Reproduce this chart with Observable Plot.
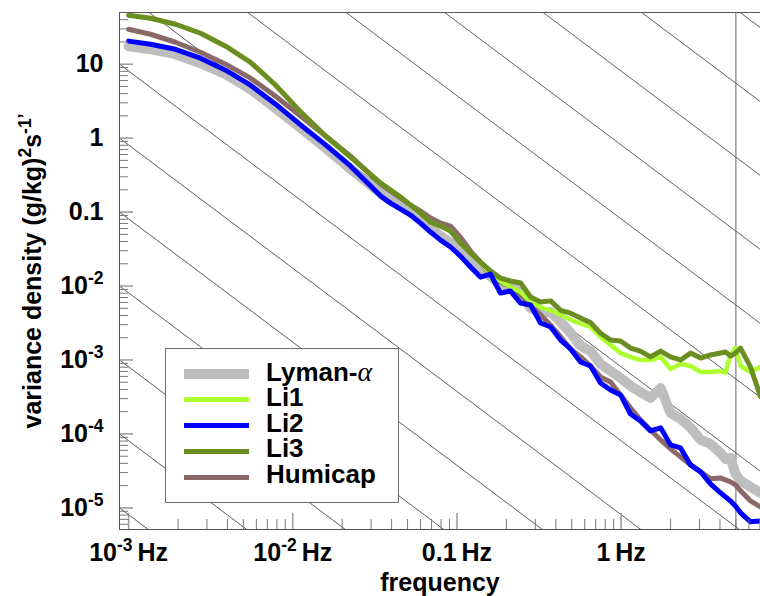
<!DOCTYPE html>
<html>
<head>
<meta charset="utf-8">
<script src="https://cdn.jsdelivr.net/npm/d3@7"></script>
<script src="https://cdn.jsdelivr.net/npm/@observablehq/plot@0.6"></script>
<style>
html,body{margin:0;padding:0;background:#fff;}
#wrap{position:relative;width:760px;height:596px;overflow:hidden;background:#fff;}
#wrap svg{display:block;}
#legend{position:absolute;left:165px;top:348px;width:234px;height:155px;box-sizing:border-box;border:1px solid #6e6e6e;background:#fff;padding-top:12px;}
.row{display:flex;align-items:center;height:25.8px;}
.sw{margin-left:18px;width:65px;flex:none;}
.lab{margin-left:17px;font-family:"Liberation Sans",Arial,sans-serif;font-weight:bold;font-size:26px;line-height:25.8px;color:#000;position:relative;top:-2px;white-space:nowrap;}
.lab i{font-family:"Liberation Serif","DejaVu Serif",serif;font-weight:normal;font-style:italic;font-size:28px;}
</style>
</head>
<body>
<div id="wrap"><div id="legend"></div></div>
<script>
// frequency (Hz)
const freq = [0.001, 0.00136, 0.00193, 0.00274, 0.0039, 0.00553, 0.00786, 0.0112, 0.0159, 0.0225,
  0.0343, 0.0394, 0.0453, 0.0522, 0.06, 0.0691, 0.0795, 0.0914, 0.105, 0.121,
  0.139, 0.16, 0.184, 0.212, 0.244, 0.281, 0.323, 0.372, 0.428, 0.492,
  0.566, 0.651, 0.749, 0.862, 0.992, 1.14, 1.31, 1.51, 1.74, 2.0,
  2.3, 2.65, 3.05, 3.5, 4.03, 4.32, 4.64, 4.97, 5.34, 6.14, 7.06];

// variance density ((g/kg)^2 s^-1) per instrument
const lymanAlpha = [17.5, 15.9, 13.65, 10.3, 7.32, 4.59, 2.54, 1.365, 0.733, 0.381,
  0.1806, 0.1453, 0.1205, 0.1, 0.078, 0.0608, 0.0474, 0.0381, 0.0307, 0.0225,
  0.0175, 0.01365, 0.0103, 0.0103, 0.00804, 0.00504, 0.00432, 0.00445, 0.00326, 0.00232,
  0.00155, 0.00132, 0.000883, 0.00071, 0.000571, 0.000445, 0.000369, 0.000307, 0.000418, 0.000192,
  0.00016, 0.000121, 0.000083, 0.0000732, 0.0000554, 0.0000459, 0.0000474, 0.0000288, 0.0000232, 0.0000192, 0.000016];

const li1 = [45.9, 41.8, 34.7, 26.2, 17.5, 10.6, 5.2, 2.25, 1.06, 0.554,
  0.247, 0.198, 0.16, 0.124, 0.097, 0.0733, 0.0647, 0.0554, 0.0381, 0.0279,
  0.0211, 0.0145, 0.0117, 0.0097, 0.0083, 0.0061, 0.0052, 0.0047, 0.0041, 0.0035,
  0.0031, 0.0028, 0.00205, 0.0016, 0.00124, 0.0011, 0.001, 0.001, 0.0011, 0.000755,
  0.000883, 0.00083, 0.000688, 0.000688, 0.00071, 0.000667, 0.00117, 0.00145, 0.00083, 0.000688, 0.000804];

const li2 = [20.5, 18.6, 15.9, 12.05, 8.3, 5.2, 2.88, 1.5, 0.804, 0.418,
  0.1645, 0.1323, 0.1098, 0.0911, 0.071, 0.0537, 0.0418, 0.0337, 0.0254, 0.0181,
  0.0132, 0.0145, 0.00804, 0.00856, 0.00589, 0.00554, 0.00316, 0.00279, 0.00186, 0.00141,
  0.00094, 0.00083, 0.000489, 0.000393, 0.000337, 0.000186, 0.00015, 0.00011, 0.000121, 0.000071,
  0.0000647, 0.0000381, 0.0000307, 0.0000211, 0.000016, 0.0000141, 0.0000124, 0.0000106, 0.00000856, 0.00000647, 0.00000667];

const li3 = [45.9, 41.8, 34.7, 26.2, 17.5, 10.6, 5.2, 2.25, 1.06, 0.554,
  0.247, 0.198, 0.16, 0.124, 0.097, 0.0733, 0.0647, 0.0554, 0.0381, 0.0279,
  0.0211, 0.016, 0.0128, 0.0117, 0.011, 0.0071, 0.0061, 0.0063, 0.0047, 0.0043,
  0.0037, 0.0032, 0.0023, 0.00186, 0.00181, 0.00145, 0.00132, 0.0011, 0.00132, 0.0011,
  0.001, 0.00124, 0.00106, 0.00117, 0.00124, 0.00128, 0.00113, 0.00124, 0.00145, 0.0008, 0.00032];

const humicap = [29.7, 25.4, 19.8, 14.5, 10.0, 6.47, 3.69, 1.98, 1.06, 0.571,
  0.239, 0.192, 0.155, 0.124, 0.103, 0.083, 0.071, 0.0647, 0.0459, 0.0297,
  0.0211, 0.0141, 0.0113, 0.0097, 0.00755, 0.00554, 0.00406, 0.00297, 0.00205, 0.00141,
  0.0011, 0.00083, 0.000589, 0.000504, 0.000337, 0.000225, 0.000155, 0.000113, 0.000083, 0.0000627,
  0.0000489, 0.0000381, 0.0000307, 0.0000247, 0.0000254, 0.0000239, 0.0000225, 0.0000205, 0.000017, 0.0000124, 0.0000103];

const seriesNames = ["Lyman-α", "Li1", "Li2", "Li3", "Humicap"];
const seriesColors = ["#bebebe", "#adff2f", "#0000ff", "#6b8e23", "#8b6969"];
const seriesWidths = [10, 4.5, 5, 5, 5];
const seriesValues = [lymanAlpha, li1, li2, li3, humicap];
const drawOrder = [0, 4, 1, 3, 2];

const xDomain = [8.8e-4, 7.06];
const yDomain = [5.1e-6, 50];
const xTickValues = [0.001, 0.01, 0.1, 1, 5];
const xTickLabels = ["10^{-3}\u2009Hz", "10^{-2}\u2009Hz", "0.1\u2009Hz", "1\u2009Hz", "5Hz"];
const xMajorTicks = [0.001, 0.01, 0.1, 1];
const yTickValues = [1e-5, 1e-4, 1e-3, 1e-2, 0.1, 1, 10];
const yTickLabels = ["10^{-5}", "10^{-4}", "10^{-3}", "10^{-2}", "0.1", "1", "10"];
const refDecades = [-5, -4, -3, -2, -1, 0, 1, 2, 3, 4, 5, 6, 7, 8];
const refSlope = -5 / 3;

const xMinorTicks = [];
for (const d of [0.001, 0.01, 0.1, 1]) for (let m = 2; m <= 9; m++) if (d * m <= xDomain[1]) xMinorTicks.push(d * m);
const yMinorTicks = [];
for (let k = -6; k <= 1; k++) for (let m = 2; m <= 9; m++) { const v = m * 10 ** k; if (v > yDomain[0] && v < yDomain[1]) yMinorTicks.push(v); }

const W = 760, H = 596, mL = 119, mR = 0, mT = 12, mB = 67;
const frameW = W - mL - mR, frameH = H - mT - mB;

const refData = refDecades.flatMap(k => [
  {f: xDomain[0], v: 10 ** k, k},
  {f: xDomain[1], v: 10 ** k * (xDomain[1] / xDomain[0]) ** refSlope, k}
]);

const seriesMarks = drawOrder.map(i => Plot.line(
  freq.map((f, j) => ({f, v: seriesValues[i][j]})),
  {x: "f", y: "v", stroke: seriesColors[i], strokeWidth: seriesWidths[i], strokeLinejoin: "round", strokeLinecap: "round", clip: true}
));

const plot = Plot.plot({
  width: W, height: H,
  marginLeft: mL, marginRight: mR, marginTop: mT, marginBottom: mB,
  x: {type: "log", domain: xDomain},
  y: {type: "log", domain: yDomain},
  style: {fontFamily: "'Liberation Sans', Arial, sans-serif", fontWeight: "bold", fontSize: "25px", color: "#000", background: "#fff"},
  marks: [
    Plot.line(refData, {x: "f", y: "v", z: "k", stroke: "#333", strokeWidth: 0.8, clip: true}),
    Plot.ruleX([5], {stroke: "#555", strokeWidth: 0.9}),
    ...seriesMarks,
    Plot.ruleX(xMinorTicks, {stroke: "#777", strokeWidth: 1, insetTop: frameH - 10}),
    Plot.ruleX(xMajorTicks, {stroke: "#999", strokeWidth: 1.5, insetTop: frameH - 16}),
    Plot.ruleY(yMinorTicks, {stroke: "#777", strokeWidth: 1, insetRight: frameW - 9}),
    Plot.ruleY(yTickValues, {stroke: "#999", strokeWidth: 1.5, insetRight: frameW - 14}),
    Plot.ruleY([yDomain[1]], {stroke: "#555"}),
    Plot.ruleY([yDomain[0]], {stroke: "#555"}),
    Plot.ruleX([xDomain[0]], {stroke: "#555"}),
    Plot.axisX({ticks: xTickValues, tickFormat: d => xTickLabels[xTickValues.indexOf(d)], tickSize: 0, tickPadding: 14,
      fontSize: 25, fontWeight: "bold", label: "frequency", labelAnchor: "center", labelOffset: 61, labelArrow: false}),
    Plot.axisY({ticks: yTickValues, tickFormat: d => yTickLabels[yTickValues.indexOf(d)], tickSize: 0, tickPadding: 16,
      fontSize: 25, fontWeight: "bold", label: "variance density (g/kg)^{2}s^{-1\u2019}", labelAnchor: "center", labelOffset: 96, labelArrow: false})
  ]
});

function supify(node) {
  const t = d3.select(node);
  const s = t.text();
  if (!s.includes("^{")) return;
  const parts = s.split(/(\^\{[^}]*\})/).filter(p => p);
  t.text("");
  let raised = false;
  for (const p of parts) {
    const m = p.match(/^\^\{(.*)\}$/);
    if (m) {
      t.append("tspan").attr("dy", "-10").attr("font-size", "17.5").text(m[1]);
      raised = true;
    } else {
      const ts = t.append("tspan").text(p);
      if (raised) { ts.attr("dy", "10"); raised = false; }
    }
  }
}
d3.select(plot).selectAll('g[aria-label="x-axis tick label"] text, g[aria-label="y-axis tick label"] text, g[aria-label="y-axis label"] text')
  .each(function() { supify(this); });

const wrap = document.getElementById("wrap");
const legend = document.getElementById("legend");
wrap.insertBefore(plot, legend);

seriesNames.forEach((name, i) => {
  const row = document.createElement("div");
  row.className = "row";
  const sw = document.createElement("span");
  sw.className = "sw";
  sw.style.height = (i === 0 ? 10 : 5) + "px";
  sw.style.background = seriesColors[i];
  const lab = document.createElement("span");
  lab.className = "lab";
  if (name.endsWith("α")) {
    lab.append(name.slice(0, -1));
    const it = document.createElement("i");
    it.textContent = "α";
    lab.append(it);
  } else lab.textContent = name;
  row.append(sw, lab);
  legend.append(row);
});
</script>
</body>
</html>
